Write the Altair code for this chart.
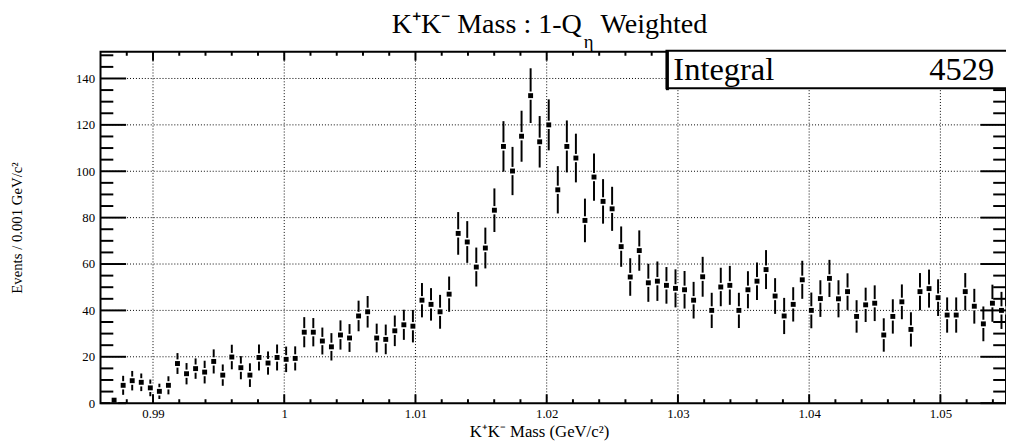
import altair as alt
import pandas as pd

# Histogram definition
x_min = 0.986
x_max = 1.055
n_bins = 100
y_max = 151.5

counts = [
    None, 1.3, 7.7, 9.7, 9.0, 6.6, 5.1, 7.7, 17.1, 12.7,
    14.9, 13.4, 18.0, 12.1, 19.9, 15.3, 12.1, 19.7, 17.3, 19.7,
    18.9, 19.3, 30.6, 30.6, 26.8, 24.3, 29.4, 28.1, 37.6, 39.4,
    28.1, 27.5, 31.2, 33.8, 33.2, 44.4, 42.6, 39.4, 47.0, 73.2,
    69.5, 58.7, 66.9, 83.2, 110.7, 100.1, 115.1, 132.6, 112.7, 120.0,
    92.0, 110.7, 105.7, 78.8, 97.5, 87.0, 83.8, 67.5, 54.4, 65.8,
    51.9, 52.6, 50.8, 49.5, 48.9, 44.4, 54.5, 40.0, 50.1, 50.8,
    40.0, 48.9, 52.6, 57.6, 46.2, 37.6, 42.6, 53.2, 40.0, 45.1,
    53.8, 45.0, 48.1, 37.4, 42.4, 43.1, 29.4, 37.4, 43.7, 31.8,
    48.1, 49.4, 45.5, 38.0, 38.0, 48.1, 41.8, 34.2, 43.1, 40.0,
]
errors = [
    0.0, 1.2, 4.1, 4.2, 3.8, 3.6, 3.3, 3.9, 4.5, 4.6,
    4.4, 4.9, 5.2, 4.6, 5.3, 5.0, 5.1, 5.6, 5.0, 5.6,
    5.5, 5.2, 6.5, 6.1, 5.8, 5.9, 6.3, 6.0, 6.6, 6.8,
    6.2, 6.4, 6.6, 6.5, 7.0, 7.4, 7.0, 7.3, 7.6, 9.2,
    9.0, 8.4, 8.8, 9.4, 10.9, 10.4, 11.0, 11.8, 11.1, 11.0,
    10.2, 11.2, 10.5, 9.4, 10.2, 9.6, 9.5, 8.7, 8.1, 8.7,
    8.2, 8.5, 7.9, 8.2, 8.1, 7.9, 8.6, 7.6, 8.3, 8.4,
    7.6, 8.0, 8.1, 8.4, 7.7, 7.8, 7.4, 8.2, 7.7, 7.9,
    8.0, 8.0, 7.9, 7.0, 7.4, 7.7, 7.2, 7.4, 7.5, 7.4,
    8.0, 8.2, 7.9, 7.6, 7.6, 8.0, 7.5, 7.5, 8.0, 8.0,
]

x_major = [0.99, 1.0, 1.01, 1.02, 1.03, 1.04, 1.05]
x_minor = [0.988, 0.992, 0.994, 0.996, 0.998, 1.002, 1.004, 1.006, 1.008,
           1.012, 1.014, 1.016, 1.018, 1.022, 1.024, 1.026, 1.028,
           1.032, 1.034, 1.036, 1.038, 1.042, 1.044, 1.046, 1.048,
           1.052, 1.054]
y_major = [0, 20, 40, 60, 80, 100, 120, 140]
y_grid = [20, 40, 60, 80, 100, 120, 140]
y_minor = [5, 10, 15, 25, 30, 35, 45, 50, 55, 65, 70, 75, 85, 90, 95,
           105, 110, 115, 125, 130, 135, 145, 150]

title_main = "K⁺K⁻ Mass : 1-Q"
title_sub = "η"
title_tail = "Weighted"
x_title = "K⁺K⁻ Mass (GeV/c²)"
y_title = "Events / 0.001 GeV/c²"
stat_name = "Integral"
stat_value = "4529"

W, H = 920, 357
FONT = "Liberation Serif"

bin_w = (x_max - x_min) / n_bins
centers = [x_min + (i + 0.5) * bin_w for i in range(n_bins)]
df = pd.DataFrame({"mass": centers, "count": counts, "err": errors}).dropna()
df["lo"] = (df["count"] - df["err"]).clip(lower=0)
df["hi"] = df["count"] + df["err"]

xs = alt.Scale(domain=[x_min, x_max], nice=False, zero=False)
ys = alt.Scale(domain=[0, y_max], nice=False, zero=True)

base = alt.Chart(df)

xmaj = alt.Chart(pd.DataFrame({"v": x_major}))
xmin_ = alt.Chart(pd.DataFrame({"v": x_minor}))
ymaj = alt.Chart(pd.DataFrame({"v": y_major}))
ygrd = alt.Chart(pd.DataFrame({"v": y_grid}))
ymin_ = alt.Chart(pd.DataFrame({"v": y_minor}))

# dotted grid
vgrid = xmaj.mark_rule(color="black", strokeWidth=1, strokeDash=[1, 2]).encode(
    x=alt.X("v:Q", scale=xs, axis=alt.Axis(
        values=x_major, grid=False, ticks=False, domain=False, title=None,
        labelFont=FONT, labelFontSize=13, labelColor="black", labelPadding=5,
        labelExpr="datum.value == 1 ? '1' : format(datum.value, '.2f')")),
    y=alt.value(0), y2=alt.value(H))
hgrid = ygrd.mark_rule(color="black", strokeWidth=1, strokeDash=[1, 2]).encode(
    y=alt.Y("v:Q", scale=ys, axis=alt.Axis(
        values=y_major, grid=False, ticks=False, domain=False, title=None,
        labelFont=FONT, labelFontSize=13, labelColor="black", labelPadding=6,
        format="d")),
    x=alt.value(0), x2=alt.value(W))

errbars = base.mark_rule(color="black", strokeWidth=2).encode(
    x=alt.X("mass:Q", scale=xs), y=alt.Y("lo:Q", scale=ys), y2="hi:Q")
gaps = base.mark_square(color="white", size=70, opacity=1).encode(
    x=alt.X("mass:Q", scale=xs), y=alt.Y("count:Q", scale=ys))
markers = base.mark_square(color="black", size=25, opacity=1).encode(
    x=alt.X("mass:Q", scale=xs), y=alt.Y("count:Q", scale=ys))


def xtick(ch, y0, y1):
    return ch.mark_rule(color="black", strokeWidth=2).encode(
        x=alt.X("v:Q", scale=xs), y=alt.value(y0), y2=alt.value(y1))


def ytick(ch, x0, x1):
    return ch.mark_rule(color="black", strokeWidth=2).encode(
        y=alt.Y("v:Q", scale=ys), x=alt.value(x0), x2=alt.value(x1))


ticks = [
    xtick(xmaj, H, H - 9), xtick(xmaj, 0, 9),
    xtick(xmin_, H, H - 4), xtick(xmin_, 0, 4),
    ytick(ymaj, 0, 26), ytick(ymaj, W, W - 26),
    ytick(ymin_, 0, 13), ytick(ymin_, W, W - 13),
]

one = alt.Chart(pd.DataFrame({"a": [0]}))


def label(text, x, y, size, align="center", baseline="alphabetic", angle=0):
    kw = dict(text=text, font=FONT, fontSize=size, align=align,
              baseline=baseline, color="black")
    if angle:
        kw["angle"] = angle
    return one.mark_text(**kw).encode(x=alt.value(x), y=alt.value(y))


statbox = one.mark_rect(fill="white", stroke="black", strokeWidth=2).encode(
    x=alt.value(575), x2=alt.value(930), y=alt.value(-1), y2=alt.value(37))
statshadow = one.mark_rule(color="black", strokeWidth=3).encode(
    x=alt.value(576), x2=alt.value(576), y=alt.value(-1), y2=alt.value(39))

texts = [
    label(title_main, 489, -19, 28.5, align="right"),
    label(title_sub, 496, -4, 19),
    label(title_tail, 508, -19, 28.5, align="left"),
    label(x_title, 446, 386, 17, baseline="middle"),
    label(y_title, -85, 179, 15, baseline="middle", angle=270),
    label(stat_name, 582, 29, 33, align="left"),
    label(stat_value, 908, 29, 33, align="right"),
]

chart = alt.layer(
    vgrid, hgrid, errbars, gaps, markers, *ticks, statbox, statshadow, *texts
).properties(
    width=W, height=H,
    autosize=alt.AutoSizeParams(type="none"),
    padding={"left": 94, "top": 41, "right": 0, "bottom": 40},
    background="white",
).configure_view(stroke="black", strokeWidth=2)

chart.save("out.html", embed_options={"renderer": "svg", "actions": False})
